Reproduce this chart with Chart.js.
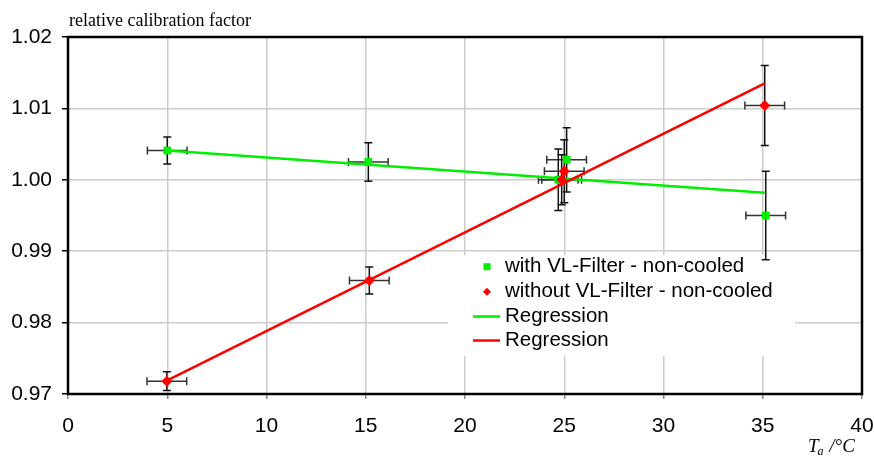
<!DOCTYPE html>
<html><head><meta charset="utf-8">
<script src="https://cdn.jsdelivr.net/npm/chart.js@4"></script>
<style>html,body{margin:0;padding:0;background:#fff;} canvas{display:block;}</style>
</head><body>
<canvas id="c" width="874" height="458"></canvas>
<script>
// ---- data ----
const tempWith      = [5.0, 15.13, 25.12, 24.70, 35.15];
const factorWith    = [1.0041, 1.0025, 1.0028, 1.0000, 0.9950];
const yErrWith      = [0.0019, 0.0027, 0.0045, 0.0043, 0.0062];
const xErrWith      = [1.0, 1.0, 1.0, 1.0, 1.0];

const tempWithout   = [4.98, 15.18, 25.00, 24.87, 35.10];
const factorWithout = [0.9718, 0.9859, 1.0012, 1.0000, 1.0104];
const yErrWithout   = [0.0013, 0.0019, 0.0044, 0.0035, 0.0056];
const xErrWithout   = [1.0, 1.0, 1.0, 1.0, 1.0];

const regTemp       = [5.0, 35.1];
const regWith       = [1.0041, 0.9982];
const regWithout    = [0.9719, 1.0135];

const xTicks = [0, 5, 10, 15, 20, 25, 30, 35, 40];
const yTicks = [0.97, 0.98, 0.99, 1.00, 1.01, 1.02];

const legendLabels = ['with VL-Filter - non-cooled', 'without VL-Filter - non-cooled', 'Regression', 'Regression'];
const yTitle = 'relative calibration factor';

const GREEN = '#00ee00', RED = '#ff0000';
const SANS = "'Liberation Sans', Arial, sans-serif";
const SERIF = "'Liberation Serif', 'Times New Roman', serif";

const zip = (a, b) => a.map((v, i) => ({x: v, y: b[i]}));

const custom = {
  id: 'custom',
  beforeDatasetsDraw(chart) {
    const ctx = chart.ctx, a = chart.chartArea;
    const xs = chart.scales.x, ys = chart.scales.y;
    ctx.save();
    // legend background box
    ctx.fillStyle = '#fff';
    ctx.fillRect(448, 255, 347, 101);
    // plot border
    ctx.strokeStyle = '#000';
    ctx.lineWidth = 2.5;
    ctx.strokeRect(a.left, a.top, a.right - a.left, a.bottom - a.top);
    // error bars
    const drawErr = (t, v, ex, ey) => {
      for (let i = 0; i < t.length; i++) {
        const px = xs.getPixelForValue(t[i]), py = ys.getPixelForValue(v[i]);
        const y1 = ys.getPixelForValue(v[i] + ey[i]), y2 = ys.getPixelForValue(v[i] - ey[i]);
        const x1 = xs.getPixelForValue(t[i] - ex[i]), x2 = xs.getPixelForValue(t[i] + ex[i]);
        ctx.lineWidth = 1.5;
        ctx.strokeStyle = '#111';
        ctx.beginPath();
        ctx.moveTo(px, y1); ctx.lineTo(px, y2);
        ctx.moveTo(px - 4, y1); ctx.lineTo(px + 4, y1);
        ctx.moveTo(px - 4, y2); ctx.lineTo(px + 4, y2);
        ctx.stroke();
        ctx.strokeStyle = '#333';
        ctx.beginPath();
        ctx.moveTo(x1, py); ctx.lineTo(x2, py);
        ctx.moveTo(x1, py - 4); ctx.lineTo(x1, py + 4);
        ctx.moveTo(x2, py - 4); ctx.lineTo(x2, py + 4);
        ctx.stroke();
      }
    };
    drawErr(tempWith, factorWith, xErrWith, yErrWith);
    drawErr(tempWithout, factorWithout, xErrWithout, yErrWithout);
    ctx.restore();
  },
  afterDraw(chart) {
    const ctx = chart.ctx;
    ctx.save();
    // legend
    const rows = [266.7, 291.7, 316.5, 340.5];
    ctx.font = '20.5px ' + SANS;
    ctx.fillStyle = '#000';
    ctx.textBaseline = 'middle';
    ctx.textAlign = 'left';
    legendLabels.forEach((t, i) => ctx.fillText(t, 505, rows[i]));
    ctx.fillStyle = GREEN;
    ctx.fillRect(483.5, rows[0] - 3.5, 7, 7);
    ctx.fillStyle = RED;
    ctx.beginPath();
    ctx.moveTo(487, rows[1] - 4); ctx.lineTo(491, rows[1]); ctx.lineTo(487, rows[1] + 4); ctx.lineTo(483, rows[1]);
    ctx.closePath(); ctx.fill();
    ctx.lineWidth = 2.5;
    ctx.strokeStyle = GREEN;
    ctx.beginPath(); ctx.moveTo(473, rows[2]); ctx.lineTo(500, rows[2]); ctx.stroke();
    ctx.strokeStyle = RED;
    ctx.beginPath(); ctx.moveTo(473, rows[3]); ctx.lineTo(500, rows[3]); ctx.stroke();
    // y title
    ctx.fillStyle = '#000';
    ctx.textBaseline = 'alphabetic';
    ctx.font = '18px ' + SERIF;
    ctx.fillText(yTitle, 69, 26);
    // x title  T_a /°C
    ctx.font = 'italic 19px ' + SERIF;
    let x = 808;
    ctx.fillText('T', x, 452); x += ctx.measureText('T').width;
    ctx.font = 'italic 12px ' + SERIF;
    ctx.fillText('a', x - 1, 455); x += ctx.measureText('a').width;
    ctx.font = 'italic 19px ' + SERIF;
    ctx.fillText(' /°C', x, 452);
    ctx.restore();
  }
};

new Chart(document.getElementById('c'), {
  type: 'scatter',
  data: {
    datasets: [
      { label: 'Regression green', data: zip(regTemp, regWith), showLine: true, borderColor: GREEN, borderWidth: 2.5, pointRadius: 0, order: 3 },
      { label: 'Regression red', data: zip(regTemp, regWithout), showLine: true, borderColor: RED, borderWidth: 2.5, pointRadius: 0, order: 2 },
      { label: legendLabels[0], data: zip(tempWith, factorWith), pointStyle: 'rect', pointRadius: 5.5, backgroundColor: GREEN, borderColor: GREEN, borderWidth: 0, order: 1 },
      { label: legendLabels[1], data: zip(tempWithout, factorWithout), pointStyle: 'rectRot', pointRadius: 5.5, backgroundColor: RED, borderColor: RED, borderWidth: 0, order: 0 }
    ]
  },
  options: {
    responsive: false,
    animation: false,
    layout: { padding: { top: 37, right: 12, left: 0, bottom: 0 } },
    plugins: { legend: { display: false }, tooltip: { enabled: false }, title: { display: false } },
    scales: {
      x: {
        type: 'linear', min: 0, max: 40,
        afterFit(s) { s.height = 64; s.paddingLeft = 0; s.paddingRight = 0; },
        afterBuildTicks(s) { s.ticks = xTicks.map(v => ({ value: v })); },
        border: { display: false },
        grid: { color: '#cccccc', lineWidth: 1.5, tickLength: 5, tickColor: '#888' },
        ticks: { color: '#000', font: { family: SANS, size: 21 }, padding: 15, callback: v => String(v) }
      },
      y: {
        type: 'linear', min: 0.97, max: 1.02,
        afterFit(s) { s.width = 68; s.paddingTop = 0; s.paddingBottom = 0; },
        afterBuildTicks(s) { s.ticks = yTicks.map(v => ({ value: v })); },
        border: { display: false },
        grid: { color: '#cccccc', lineWidth: 1.5, tickLength: 6, tickColor: '#000' },
        ticks: { color: '#000', font: { family: SANS, size: 21 }, padding: 10, callback: v => Number(v).toFixed(2) }
      }
    }
  },
  plugins: [custom]
});
</script>
</body></html>
